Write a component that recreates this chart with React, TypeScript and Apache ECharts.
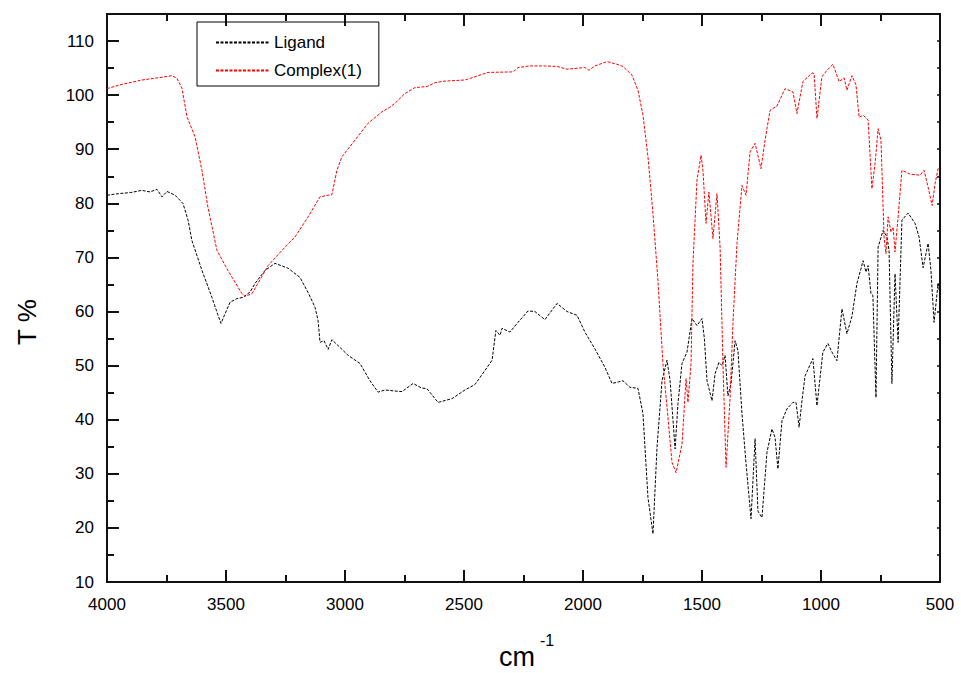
import React, { useEffect, useRef } from "react";
import * as echarts from "echarts";

const ligandWavenumber = [
  4000, 3950, 3900, 3853, 3819, 3790, 3769, 3748, 3714, 3681, 3660, 3643, 3601, 3559, 3535, 3521, 3505, 3483, 3454, 3429,
  3399, 3378, 3336, 3294, 3239, 3189, 3155, 3126, 3113, 3105, 3088, 3071, 3055, 3029, 2987, 2937, 2895, 2861, 2832, 2790,
  2760, 2714, 2680, 2655, 2609, 2550, 2496, 2454, 2412, 2382, 2366, 2349, 2340, 2307, 2273, 2231, 2202, 2160, 2109, 2067,
  2025, 1992, 1950, 1908, 1878, 1850, 1832, 1803, 1769, 1748, 1727, 1706, 1689, 1668, 1647, 1634, 1613, 1601, 1584, 1563,
  1542, 1521, 1500, 1490, 1479, 1458, 1445, 1429, 1416, 1403, 1391, 1378, 1361, 1349, 1332, 1315, 1294, 1277, 1265, 1248,
  1227, 1206, 1193, 1181, 1164, 1143, 1118, 1105, 1092, 1080, 1067, 1034, 1017, 992, 971, 954, 933, 912, 891, 870,
  849, 823, 811, 802, 790, 782, 769, 760, 739, 723, 714, 702, 689, 676, 660, 634, 605, 588, 571, 550,
  538, 525, 508, 500,
];
const ligandT = [
  81.5, 81.8, 82.0, 82.4, 82.1, 82.6, 81.2, 82.2, 81.5, 80.0, 77.0, 73.1, 67.6, 62.6, 59.5, 57.8, 59.5, 61.7, 62.4, 62.6,
  63.6, 65.2, 67.6, 68.9, 68.0, 66.3, 63.5, 60.8, 58.3, 54.3, 54.6, 53.0, 54.8, 53.7, 51.9, 50.4, 47.2, 45.1, 45.5, 45.3,
  45.2, 46.7, 45.9, 45.7, 43.2, 43.9, 45.5, 46.5, 49.1, 51.0, 56.5, 55.6, 56.9, 56.2, 58.0, 60.1, 60.0, 58.5, 61.5, 60.0,
  59.3, 56.2, 53.1, 49.7, 46.7, 47.0, 47.2, 46.0, 45.8, 41.1, 25.6, 18.9, 34.9, 47.2, 51.0, 47.2, 34.6, 43.0, 50.4, 52.5,
  58.7, 57.4, 58.7, 55.0, 47.2, 43.5, 48.5, 50.6, 50.0, 51.9, 44.4, 46.7, 54.6, 52.8, 41.1, 31.9, 21.7, 36.5, 23.1, 21.9,
  34.0, 38.3, 36.7, 30.9, 39.8, 42.0, 43.2, 43.2, 38.6, 43.5, 48.1, 51.3, 42.6, 52.5, 54.1, 52.5, 50.9, 60.5, 55.9, 59.1,
  65.2, 69.4, 67.3, 68.5, 63.3, 63.0, 44.1, 71.9, 75.0, 73.8, 71.3, 46.7, 67.0, 54.3, 76.9, 78.2, 76.3, 73.8, 68.1, 72.6,
  67.6, 58.0, 65.2, 63.0,
];

const complexWavenumber = [
  4000, 3937, 3853, 3786, 3727, 3706, 3685, 3664, 3630, 3601, 3576, 3538, 3492, 3433, 3420, 3391, 3366, 3323, 3265, 3210,
  3155, 3105, 3071, 3055, 3034, 3013, 2958, 2903, 2845, 2811, 2790, 2748, 2706, 2655, 2622, 2580, 2496, 2454, 2399, 2294,
  2273, 2223, 2160, 2109, 2067, 1992, 1975, 1950, 1899, 1857, 1832, 1794, 1769, 1748, 1727, 1706, 1685, 1664, 1647, 1626,
  1609, 1584, 1567, 1559, 1546, 1538, 1521, 1504, 1496, 1483, 1471, 1454, 1437, 1424, 1412, 1399, 1382, 1370, 1353, 1332,
  1315, 1298, 1277, 1252, 1235, 1214, 1185, 1151, 1118, 1101, 1076, 1038, 1029, 1017, 996, 975, 950, 924, 903, 891,
  870, 853, 840, 823, 802, 786, 773, 760, 748, 735, 727, 718, 706, 697, 689, 676, 660, 626, 584, 567,
  550, 533, 521, 508, 500,
];
const complexT = [
  101.2, 102.0, 102.8, 103.2, 103.6, 103.1, 101.3, 96.0, 92.3, 86.1, 79.3, 71.3, 67.6, 63.3, 62.8, 63.3, 65.2, 68.5, 71.3, 73.8,
  77.5, 81.2, 81.5, 81.6, 86.1, 88.6, 91.7, 94.8, 96.9, 97.8, 98.5, 100.3, 101.4, 101.6, 102.3, 102.6, 102.8, 103.4, 104.2, 104.3,
  105.1, 105.4, 105.4, 105.3, 104.8, 105.1, 104.6, 105.4, 106.2, 105.7, 105.3, 103.7, 100.9, 96.3, 88.6, 78.1, 65.7, 50.3, 42.3, 32.1,
  30.2, 35.5, 47.6, 43.2, 50.4, 68.9, 84.3, 88.9, 86.1, 76.3, 82.1, 73.5, 81.8, 71.9, 50.4, 31.2, 44.1, 57.8, 72.6, 83.3,
  81.5, 89.5, 91.1, 86.4, 91.7, 97.2, 98.0, 101.2, 100.6, 96.6, 102.5, 104.1, 104.0, 95.7, 103.4, 104.6, 105.7, 102.5, 103.2, 100.9,
  103.6, 101.9, 95.9, 96.3, 95.4, 82.7, 87.3, 93.8, 91.7, 73.8, 70.7, 77.5, 74.7, 75.6, 71.0, 77.5, 86.1, 85.4, 85.2, 86.1,
  83.0, 79.6, 83.6, 86.4, 86.5,
];

const seriesNames = ["Ligand", "Complex(1)"];
const yTicks = [10, 20, 30, 40, 50, 60, 70, 80, 90, 100, 110];
const xTicks = [4000, 3500, 3000, 2500, 2000, 1500, 1000, 500];

const FONT = "'Liberation Sans', Arial, sans-serif";
const AXIS = "#111111";

const axisLine = () => ({ show: true, lineStyle: { color: AXIS, width: 2 } });
const majorTick = () => ({ show: true, inside: true, length: 12, lineStyle: { width: 2, color: AXIS } });
const minorTick = () => ({ show: true, splitNumber: 2, length: 7, lineStyle: { width: 2, color: AXIS } });

export default function App() {
  const ref = useRef<HTMLDivElement>(null);
  useEffect(() => {
    if (!ref.current) return;
    const chart = echarts.init(ref.current, null, { renderer: "svg" });
    const zip = (xs: number[], ys: number[]) => xs.map((x, i) => [x, ys[i]]);
    chart.setOption({
      animation: false,
      backgroundColor: "#fff",
      grid: { left: 107, right: 21, top: 14, bottom: 91, show: true, borderColor: AXIS, borderWidth: 2, backgroundColor: "transparent" },
      legend: {
        left: 197,
        top: 22,
        orient: "vertical",
        data: seriesNames,
        itemWidth: 53,
        itemHeight: 14,
        itemGap: 11,
        borderColor: "#000",
        borderWidth: 1,
        padding: [12, 17, 7, 18],
        itemStyle: { opacity: 0, borderWidth: 0 },
        textStyle: { fontFamily: FONT, fontSize: 17, color: "#000" },
      },
      xAxis: [
        {
          type: "value",
          position: "bottom",
          min: 500,
          max: 4000,
          interval: 500,
          inverse: true,
          axisLine: axisLine(),
          axisTick: majorTick(),
          minorTick: minorTick(),
          splitLine: { show: false },
          minorSplitLine: { show: false },
          axisLabel: {
            margin: 14,
            fontFamily: FONT,
            fontSize: 17,
            color: "#000",
            formatter: (v: number) => (xTicks.includes(v) ? String(v) : ""),
          },
        },
        {
          type: "value",
          position: "top",
          min: 500,
          max: 4000,
          interval: 500,
          inverse: true,
          axisLine: axisLine(),
          axisTick: majorTick(),
          minorTick: minorTick(),
          splitLine: { show: false },
          minorSplitLine: { show: false },
          axisLabel: { show: false },
        },
      ],
      yAxis: [
        {
          type: "value",
          position: "left",
          min: 10,
          max: 115,
          interval: 10,
          axisLine: axisLine(),
          axisTick: majorTick(),
          splitLine: { show: false },
          axisLabel: {
            margin: 13,
            fontFamily: FONT,
            fontSize: 17,
            color: "#000",
            formatter: (v: number) => (yTicks.includes(v) ? String(v) : ""),
          },
        },
        {
          type: "value",
          position: "left",
          min: 10,
          max: 115,
          interval: 5,
          axisLine: { show: false },
          axisTick: { show: true, inside: true, length: 7, lineStyle: { width: 2, color: AXIS } },
          splitLine: { show: false },
          axisLabel: { show: false },
        },
        {
          type: "value",
          position: "right",
          min: 10,
          max: 115,
          interval: 5,
          axisLine: axisLine(),
          axisTick: { show: true, inside: true, length: 3, lineStyle: { width: 1.5, color: AXIS } },
          splitLine: { show: false },
          axisLabel: { show: false },
        },
      ],
      series: [
        {
          name: seriesNames[0],
          type: "line",
          xAxisIndex: 0,
          yAxisIndex: 0,
          data: zip(ligandWavenumber, ligandT),
          showSymbol: false,
          symbol: "none",
          color: "#000",
          lineStyle: { color: "#000", width: 1, type: [3, 1.5] },
        },
        {
          name: seriesNames[1],
          type: "line",
          xAxisIndex: 0,
          yAxisIndex: 0,
          data: zip(complexWavenumber, complexT),
          showSymbol: false,
          symbol: "none",
          color: "#ff0000",
          lineStyle: { color: "#ff0000", width: 1, type: [3, 1.5] },
        },
      ],
      graphic: [
        {
          type: "text",
          x: 27,
          y: 322,
          rotation: Math.PI / 2,
          style: { text: "T %", fontFamily: FONT, fontSize: 26, fill: "#000", align: "center", verticalAlign: "middle" },
        },
        {
          type: "text",
          x: 517,
          y: 657,
          style: { text: "cm", fontFamily: FONT, fontSize: 27, fill: "#000", align: "center", verticalAlign: "middle" },
        },
        {
          type: "text",
          x: 540,
          y: 640,
          style: { text: "-1", fontFamily: FONT, fontSize: 16, fill: "#000", align: "left", verticalAlign: "middle" },
        },
      ],
    });
    return () => chart.dispose();
  }, []);
  return <div ref={ref} style={{ width: 961, height: 673, position: "absolute", left: 0, top: 0 }} />;
}
